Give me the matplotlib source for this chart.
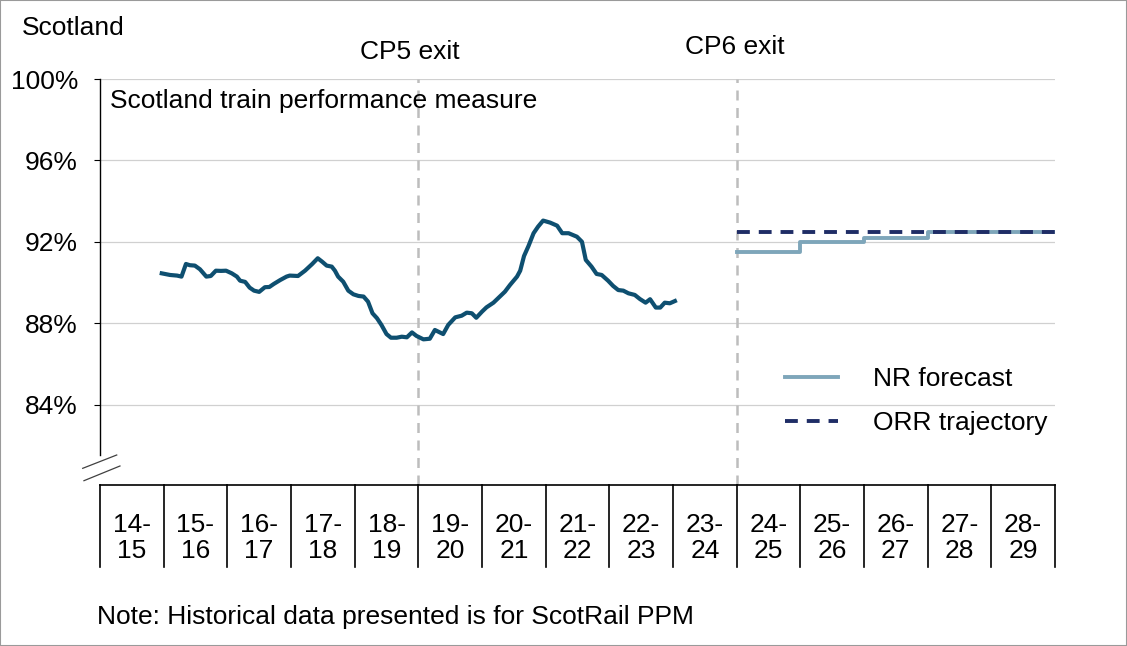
import matplotlib
matplotlib.use("Agg")
import matplotlib.pyplot as plt
from matplotlib.patches import Rectangle

FS = 19
plt.rcParams["font.family"] = ["Liberation Sans", "DejaVu Sans"]
plt.rcParams["font.size"] = FS

YEARS = ["14-\n15", "15-\n16", "16-\n17", "17-\n18", "18-\n19", "19-\n20", "20-\n21",
         "21-\n22", "22-\n23", "23-\n24", "24-\n25", "25-\n26", "26-\n27", "27-\n28", "28-\n29"]

# historical PPM (position in years from start of 14-15, percent)
hist_t = [0.97, 1.10, 1.21, 1.28, 1.35, 1.41, 1.49, 1.57, 1.67, 1.74,
          1.82, 1.90, 1.98, 2.07, 2.15, 2.20, 2.28, 2.35, 2.42, 2.50,
          2.59, 2.66, 2.73, 2.83, 2.93, 2.98, 3.11, 3.22, 3.33, 3.42,
          3.49, 3.56, 3.64, 3.69, 3.74, 3.82, 3.90, 3.98, 4.06, 4.14,
          4.21, 4.28, 4.35, 4.42, 4.50, 4.57, 4.66, 4.74, 4.82, 4.90,
          4.97, 5.08, 5.18, 5.26, 5.39, 5.47, 5.58, 5.68, 5.76, 5.84,
          5.91, 6.00, 6.07, 6.18, 6.28, 6.36, 6.44, 6.55, 6.60, 6.66,
          6.73, 6.81, 6.88, 6.96, 7.07, 7.18, 7.26, 7.36, 7.49, 7.57,
          7.63, 7.72, 7.80, 7.88, 7.98, 8.06, 8.14, 8.22, 8.30, 8.40,
          8.48, 8.57, 8.64, 8.73, 8.80, 8.87, 8.95, 9.03]
hist_v = [90.46, 90.38, 90.35, 90.30, 90.92, 90.86, 90.84, 90.66, 90.30, 90.33,
          90.59, 90.58, 90.59, 90.46, 90.30, 90.10, 90.04, 89.76, 89.61, 89.55,
          89.78, 89.79, 89.94, 90.13, 90.30, 90.35, 90.33, 90.59, 90.91, 91.20,
          91.03, 90.84, 90.79, 90.59, 90.30, 90.05, 89.61, 89.43, 89.35, 89.32,
          89.07, 88.50, 88.26, 87.93, 87.48, 87.30, 87.30, 87.35, 87.32, 87.56,
          87.39, 87.22, 87.25, 87.68, 87.48, 87.93, 88.30, 88.38, 88.53, 88.50,
          88.28, 88.58, 88.79, 89.02, 89.32, 89.56, 89.89, 90.30, 90.59, 91.31,
          91.80, 92.43, 92.75, 93.05, 92.95, 92.80, 92.43, 92.43, 92.26, 92.01,
          91.12, 90.79, 90.43, 90.38, 90.10, 89.84, 89.64, 89.61, 89.48, 89.40,
          89.20, 89.02, 89.19, 88.78, 88.78, 89.02, 88.99, 89.10]

fc_t = [10, 11, 12, 13, 14, 15]
nr_forecast = [91.5, 92.0, 92.2, 92.5, 92.5, 92.5]
orr_trajectory = [92.5, 92.5, 92.5, 92.5, 92.5, 92.5]

CP_EXITS = {"CP5 exit": 5, "CP6 exit": 10}
YTICKS = [84, 88, 92, 96, 100]

HIST_COLOR = "#0e4f70"
NR_COLOR = "#7ea6ba"
ORR_COLOR = "#1f2d66"
GRID_COLOR = "#d0d0d0"

fig = plt.figure(figsize=(11.27, 6.46), dpi=100)
ax = fig.add_axes([100 / 1127, 161 / 646, 955 / 1127, 406 / 646])
ax.set_xlim(0, 15)
ax.set_ylim(80.07, 100)

for y in YTICKS:
    ax.axhline(y, color=GRID_COLOR, lw=0.9, zorder=1)
for name, x in CP_EXITS.items():
    ax.axvline(x, color="#bdbdbd", lw=1.8, ls=(0, (4, 3)), zorder=1)

ax.plot(hist_t, hist_v, color=HIST_COLOR, lw=3.0, zorder=3, solid_joinstyle="round")
ax.plot(fc_t, nr_forecast, color=NR_COLOR, lw=2.8, drawstyle="steps-post", label="NR forecast", zorder=3)
ax.plot(fc_t, orr_trajectory, color=ORR_COLOR, lw=2.8, ls=(0, (3.3, 2.3)), label="ORR trajectory", zorder=4)

# axes styling
for s in ["top", "right", "left"]:
    ax.spines[s].set_visible(False)
ax.spines["bottom"].set_linewidth(1.2)
ax.plot([0, 0], [81.55, 100], color="black", lw=1.0, clip_on=False, zorder=5)
ax.set_yticks(YTICKS)
ax.set_yticklabels([f"{y}%" for y in YTICKS])
ax.tick_params(axis="y", length=4.3, width=0.8, pad=11.5, labelsize=FS)
ax.set_xticks([])

# axis break marks
ax.plot([-0.0181, 0.0175], [0.0411, 0.0739], transform=ax.transAxes, color="#404040", lw=0.9, clip_on=False)
ax.plot([-0.0168, 0.0209], [0.0106, 0.0468], transform=ax.transAxes, color="#404040", lw=0.9, clip_on=False)

# category boxes under the axis
xform = ax.get_xaxis_transform()
for i in range(len(YEARS) + 1):
    ax.plot([i, i], [0, -0.202], transform=xform, color="black", lw=1.2, clip_on=False)
for i, lab in enumerate(YEARS):
    ax.text(i + 0.5, -0.130, lab, transform=xform, ha="center", va="center",
            fontsize=FS, linespacing=1.1)

# text annotations
ax.text(0.0105, 0.946, "Scotland train performance measure", transform=ax.transAxes,
        ha="left", va="center", fontsize=FS)
fig.text(22 / 1127, 1 - 28 / 646, "Scotland", ha="left", va="center", fontsize=FS)
fig.text(410 / 1127, 1 - 52 / 646, "CP5 exit", ha="center", va="center", fontsize=FS)
fig.text(735 / 1127, 1 - 47 / 646, "CP6 exit", ha="center", va="center", fontsize=FS)
fig.text(97 / 1127, 1 - 617 / 646, "Note: Historical data presented is for ScotRail PPM",
         ha="left", va="center", fontsize=FS)

ax.legend(frameon=False, loc="upper left", bbox_to_anchor=(0.717, 0.29),
          borderpad=0, borderaxespad=0, handlelength=2.0, handletextpad=1.35,
          labelspacing=0.75, fontsize=FS)

# outer frame
fig.patches.append(Rectangle((0, 0), 1, 1, transform=fig.transFigure, fill=False,
                             edgecolor="#9a9a9a", lw=1.5))

fig.savefig("out.png", dpi=100)
